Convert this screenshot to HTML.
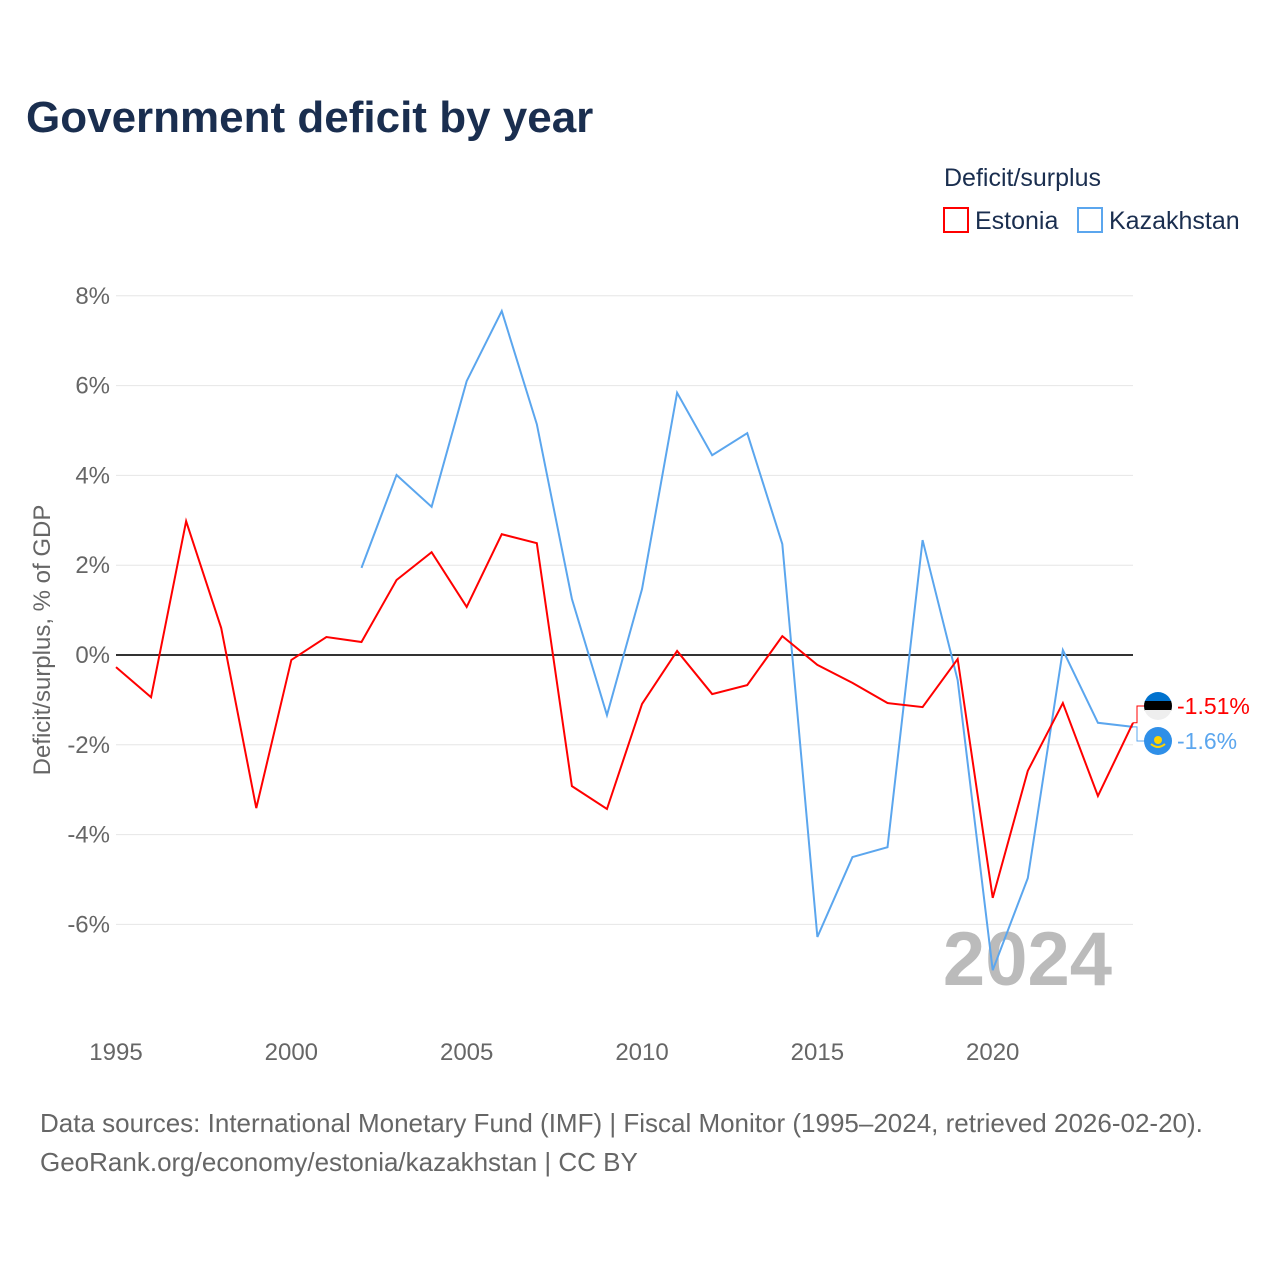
<!DOCTYPE html>
<html><head><meta charset="utf-8"><style>
body{margin:0;background:#fff;font-family:"Liberation Sans",sans-serif}
</style></head><body>
<svg id="chart" width="1280" height="1280" xmlns="http://www.w3.org/2000/svg">
<text x="26" y="132" font-size="44" font-weight="bold" fill="#1a2e4f">Government deficit by year</text>
<text x="944" y="186" font-size="25" fill="#1a2e4f">Deficit/surplus</text>
<g><rect x="944" y="208" width="24" height="24" fill="none" stroke="#ff0000" stroke-width="2"/><text x="975" y="229" font-size="25" fill="#1a2e4f">Estonia</text></g>
<g><rect x="1078" y="208" width="24" height="24" fill="none" stroke="#5ba6ee" stroke-width="2"/><text x="1109" y="229" font-size="25" fill="#1a2e4f">Kazakhstan</text></g>
<text transform="translate(50,640) rotate(-90)" text-anchor="middle" font-size="24" fill="#666">Deficit/surplus, % of GDP</text>
<g id="grid"></g>
<text x="1112" y="985" text-anchor="end" font-size="76" font-weight="bold" fill="#bbb">2024</text>
<g id="series"></g>
<text x="40" y="1132" font-size="26" fill="#666">Data sources: International Monetary Fund (IMF) | Fiscal Monitor (1995–2024, retrieved 2026-02-20).</text>
<text x="40" y="1171" font-size="26" fill="#666">GeoRank.org/economy/estonia/kazakhstan | CC BY</text>
</svg>
<script>
const years=[1995,1996,1997,1998,1999,2000,2001,2002,2003,2004,2005,2006,2007,2008,2009,2010,2011,2012,2013,2014,2015,2016,2017,2018,2019,2020,2021,2022,2023,2024];
const estonia=[-0.27,-0.94,2.98,0.6,-3.41,-0.11,0.4,0.29,1.67,2.29,1.07,2.69,2.49,-2.92,-3.43,-1.09,0.09,-0.87,-0.67,0.42,-0.22,-0.62,-1.07,-1.16,-0.09,-5.41,-2.58,-1.07,-3.14,-1.51];
const kazakhstan=[null,null,null,null,null,null,null,1.94,4.01,3.30,6.10,7.66,5.14,1.25,-1.34,1.47,5.84,4.45,4.94,2.47,-6.28,-4.50,-4.28,2.56,-0.56,-7.02,-4.97,0.11,-1.51,-1.6];
const yTicks=[8,6,4,2,0,-2,-4,-6];
const xTicks=[1995,2000,2005,2010,2015,2020];
const X=y=>116+(y-1995)*(1133-116)/29;
const Y=v=>655-v*44.9;
const NS="http://www.w3.org/2000/svg";
function mk(t,a,p){const e=document.createElementNS(NS,t);for(const k in a)e.setAttribute(k,a[k]);p.appendChild(e);return e;}
const g=document.getElementById('grid');
yTicks.forEach(t=>{
 const l=mk('line',{x1:116,x2:1133,y1:Y(t),y2:Y(t),stroke:t===0?'#333':'#e6e6e6','stroke-width':t===0?2:1},g);
 
 
 const tx=mk('text',{x:110,y:Y(t)+8,'text-anchor':'end','font-size':24,fill:'#666'},g);
 tx.textContent=t+'%';
 
 
});
xTicks.forEach(t=>{
 const tx=mk('text',{x:X(t),y:1060,'text-anchor':'middle','font-size':24,fill:'#666'},g);
 tx.textContent=t;
 
 
});
const s=document.getElementById('series');
function line(vals,color,name){
 let d='';let pen=false;
 vals.forEach((v,i)=>{if(v===null){pen=false;return;}d+=(pen?'L':'M')+X(years[i])+' '+Y(v)+' ';pen=true;});
 const p=mk('path',{d:d,fill:'none',stroke:color,'stroke-width':2},s);
 
 
}
line(kazakhstan,'#5ba6ee','kazakhstan-line');
line(estonia,'#ff0000','estonia-line');
const ev=estonia[estonia.length-1],kv=kazakhstan[kazakhstan.length-1];
const ex=X(2024);
mk('path',{d:`M${ex} ${Y(ev)} H${ex+4} V706 H1146`,fill:'none',stroke:'#ff0000','stroke-width':1},s);
mk('path',{d:`M${ex} ${Y(kv)} H${ex+4} V741 H1146`,fill:'none',stroke:'#5ba6ee','stroke-width':1},s);
const f1=mk('g',{},s);


mk('clipPath',{id:'c1'},f1).appendChild(document.createElementNS(NS,'circle'));
f1.querySelector('circle').setAttribute('cx',1158);f1.querySelector('circle').setAttribute('cy',706);f1.querySelector('circle').setAttribute('r',14);
mk('rect',{x:1144,y:692,width:28,height:10,fill:'#0072ce','clip-path':'url(#c1)'},f1);
mk('rect',{x:1144,y:701,width:28,height:10,fill:'#000','clip-path':'url(#c1)'},f1);
mk('rect',{x:1144,y:710,width:28,height:10,fill:'#eee','clip-path':'url(#c1)'},f1);
const f2=mk('g',{},s);


mk('circle',{cx:1158,cy:741,r:14,fill:'#2f8fe8'},f2);
mk('circle',{cx:1158,cy:740,r:4,fill:'#ffd400'},f2);
mk('path',{d:'M1151 744 Q1158 750 1165 744',fill:'none',stroke:'#ffd400','stroke-width':2},f2);
const l1=mk('text',{x:1177,y:714,'font-size':23,fill:'#ff0000'},s);
l1.textContent=ev+'%';


const l2=mk('text',{x:1177,y:749,'font-size':23,fill:'#5ba6ee'},s);
l2.textContent=kv+'%';


</script>
</body></html>
